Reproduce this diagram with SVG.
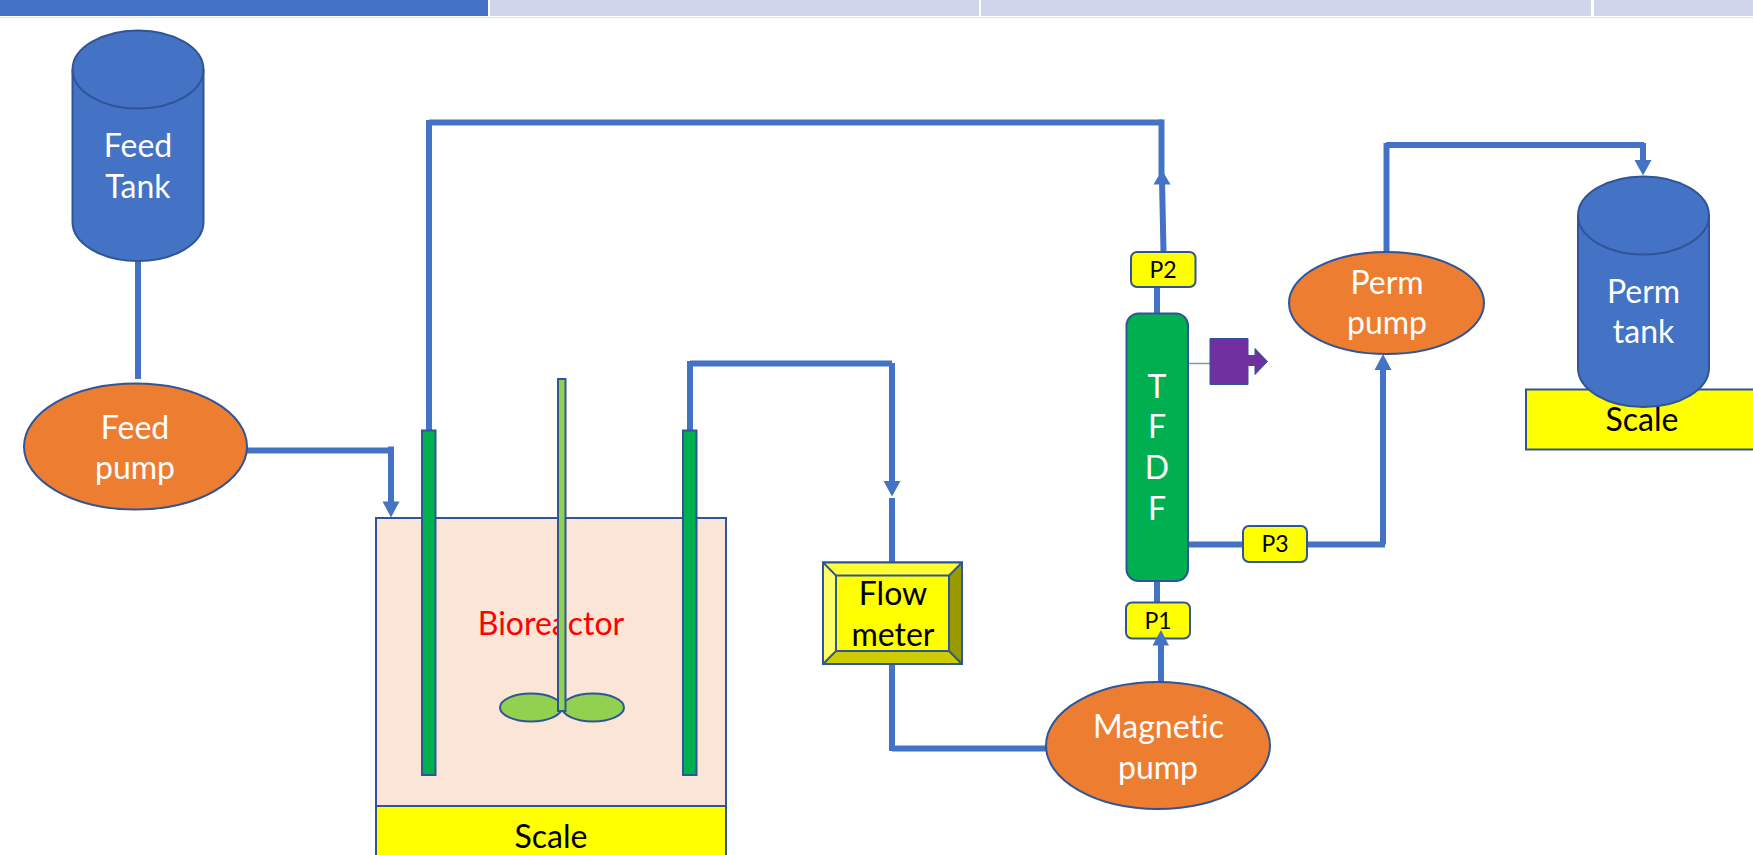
<svg xmlns="http://www.w3.org/2000/svg" width="1753" height="855" viewBox="0 0 1753 855">
<style>
text{font-family:"Lato","Liberation Sans",sans-serif;font-size:32px;text-anchor:middle;font-variant-ligatures:none}
.w{fill:#fff}.k{fill:#000}
.sm{font-size:23px}
.pipe{stroke:#4472C4;stroke-width:6;fill:none}
.out{stroke:#2F5597;stroke-width:2}
.tank{fill:#4472C4}.pump{fill:#ED7D31}.yel{fill:#FFFF00}.grn{fill:#00B050}.lgr{fill:#92D050}
.head{fill:#4472C4}
</style>
<rect width="1753" height="855" fill="#fff"/>
<g id="header">
<rect x="0" y="0" width="488" height="16" fill="#4472C4"/>
<rect x="490" y="0" width="489" height="16" fill="#CFD5EA"/>
<rect x="981" y="0" width="610" height="16" fill="#CFD5EA"/>
<rect x="1594" y="0" width="159" height="16" fill="#CFD5EA"/>
<rect x="0" y="17" width="1753" height="1" fill="#E4E4E4"/>
</g>
<g id="scale-right">
<rect class="yel out" x="1526" y="389.500" width="240" height="60"/>
<text class="k" x="1642" y="431">Scale</text>
</g>
<g id="bioreactor">
<rect x="376" y="518" width="350" height="288" fill="#FBE5D6" class="out"/>
<text x="551" y="635" fill="#FF0000">Bioreactor</text>
<ellipse class="lgr out" cx="531" cy="707.500" rx="31" ry="14"/>
<ellipse class="lgr out" cx="593" cy="707.500" rx="31" ry="14"/>
<rect class="lgr out" x="558" y="379" width="7.500" height="332"/>
</g>
<g id="scale-left">
<rect class="yel out" x="376" y="806" width="350" height="60"/>
<text class="k" x="551" y="848">Scale</text>
</g>
<g id="connectors">
<path class="pipe" d="M138 261V379"/>
<path class="pipe" d="M247 450.500H391"/>
<path class="pipe" d="M391 446.500V503"/>
<polygon class="head" points="382.500,501.500 399.500,501.500 391,517.500"/>
<path class="pipe" d="M429 430V120"/>
<path class="pipe" d="M429 122.500H1162"/>
<path class="pipe" d="M1161.500 119.500V176"/>
<path class="pipe" d="M1157 314V287"/>
<path class="pipe" d="M1163.500 252L1162 180"/>
<polygon class="head" points="1153.500,184.500 1170.500,184.500 1162,170"/>
<path class="pipe" d="M690 430V361"/>
<path class="pipe" d="M690 363.500H892"/>
<path class="pipe" d="M892 363V485"/>
<polygon class="head" points="883.500,481 900.500,481 892,496.500"/>
<path class="pipe" d="M892 498V563"/>
<path class="pipe" d="M892 664V751"/>
<path class="pipe" d="M892 748.500H1047"/>
<path class="pipe" d="M1161 682V642"/>
<path class="pipe" d="M1157 581V602"/>
<path class="pipe" d="M1188 544.500H1243"/>
<path class="pipe" d="M1307 544.500H1385"/>
<path class="pipe" d="M1383 544.500V368"/>
<polygon class="head" points="1374.500,370 1391.500,370 1383,354"/>
<path class="pipe" d="M1386.500 252V143"/>
<path class="pipe" d="M1386 145H1644"/>
<path class="pipe" d="M1643 143V162"/>
<polygon class="head" points="1634.500,160 1651.500,160 1643,175.500"/>
<path d="M1188 363.500H1210" stroke="#8497B0" stroke-width="1.500" fill="none"/>
</g>
<g id="feed-tank">
<path class="tank out" d="M72.500 69.500A65.500 39 0 0 1 203.500 69.500V222A65.500 39 0 0 1 72.500 222Z"/>
<path d="M72.500 69.500A65.500 39 0 0 0 203.500 69.500" class="out" fill="none"/>
<text class="w" x="138" y="157">Feed</text><text class="w" x="138" y="198">Tank</text>
</g>
<g id="feed-pump">
<ellipse class="pump out" cx="135.500" cy="446.500" rx="111.500" ry="63"/>
<text class="w" x="135" y="439">Feed</text><text class="w" x="135" y="479">pump</text>
</g>
<g id="tube-left"><rect class="grn out" x="422" y="430.500" width="13.500" height="344.500"/></g>
<g id="tube-right"><rect class="grn out" x="683" y="430.500" width="13.500" height="344.500"/></g>
<g id="flow-meter">
<rect x="823" y="562.500" width="139" height="101.500" fill="#FFFF00" class="out"/>
<polygon points="823,562.500 962,562.500 949,575.500 836,575.500" fill="#FFFF33"/>
<polygon points="823,562.500 836,575.500 836,651 823,664" fill="#FFFF66"/>
<polygon points="962,562.500 949,575.500 949,651 962,664" fill="#999900"/>
<polygon points="823,664 836,651 949,651 962,664" fill="#CCCC00"/>
<path class="out" fill="none" d="M823 562.500H962V664H823ZM836 575.500H949V651H836ZM823 562.500L836 575.500M962 562.500L949 575.500M823 664L836 651M962 664L949 651"/>
<text class="k" x="893" y="605">Flow</text><text class="k" x="893" y="646">meter</text>
</g>
<g id="magnetic-pump">
<ellipse class="pump out" cx="1158" cy="745.500" rx="112" ry="63.500"/>
<text class="w" x="1158.500" y="738">Magnetic</text><text class="w" x="1158" y="779">pump</text>
</g>
<g id="p1"><rect class="yel out" x="1126" y="602.500" width="64" height="36" rx="6"/><text class="k sm" x="1158" y="629">P1</text></g>
<polygon class="head" points="1152.500,645.500 1169,645.500 1161,630" id="p1-arrowhead"/>
<g id="p2"><rect class="yel out" x="1131" y="252" width="64.500" height="35" rx="6"/><text class="k sm" x="1163" y="278">P2</text></g>
<g id="p3"><rect class="yel out" x="1243" y="526" width="64" height="36" rx="6"/><text class="k sm" x="1275" y="552">P3</text></g>
<g id="tfdf">
<rect class="grn out" x="1126.500" y="313.500" width="61.500" height="267.500" rx="12"/>
<text class="w" x="1157" y="398">T</text><text class="w" x="1157" y="438">F</text><text class="w" x="1157" y="479">D</text><text class="w" x="1157" y="520">F</text>
</g>
<g id="purple-outlet">
<path fill="#7030A0" stroke="#2F5597" stroke-width="1" d="M1210 338.500H1248V355.500H1255V348.500L1267.500 361.500L1255 374.500V365.500H1248V384.500H1210Z"/>
</g>
<g id="perm-pump">
<ellipse class="pump out" cx="1386.500" cy="303" rx="97.500" ry="51"/>
<text class="w" x="1387" y="294">Perm</text><text class="w" x="1387" y="334">pump</text>
</g>
<g id="perm-tank">
<path class="tank out" d="M1578 215.500A65.500 39 0 0 1 1709 215.500V368A65.500 39 0 0 1 1578 368Z"/>
<path d="M1578 215.500A65.500 39 0 0 0 1709 215.500" class="out" fill="none"/>
<text class="w" x="1643.500" y="303">Perm</text><text class="w" x="1643.500" y="343">tank</text>
</g>
</svg>
